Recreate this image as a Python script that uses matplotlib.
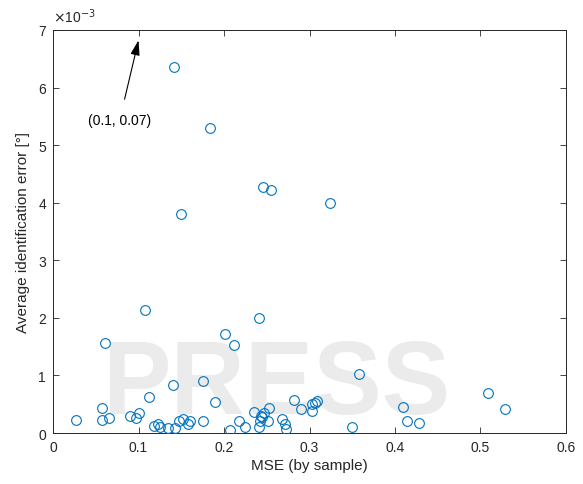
import numpy as np
import matplotlib
matplotlib.use('Agg')
import matplotlib.pyplot as plt

# MSE (by sample) and average identification error (x 1e-3 deg)
mse = [0.027, 0.057, 0.057, 0.061, 0.066, 0.090, 0.097, 0.100, 0.108, 0.112,
       0.118, 0.123, 0.125, 0.135, 0.140, 0.1425, 0.1415, 0.147, 0.150, 0.152,
       0.158, 0.160, 0.1836, 0.175, 0.176, 0.190, 0.2015, 0.207, 0.212, 0.217,
       0.225, 0.235, 0.241, 0.241, 0.242, 0.2436, 0.2452, 0.2468, 0.245, 0.2546,
       0.252, 0.253, 0.268, 0.2717, 0.2725, 0.282, 0.290, 0.3033, 0.3033, 0.306,
       0.309, 0.3243, 0.350, 0.3575, 0.409, 0.4136, 0.4277, 0.5084, 0.529]
err = [0.22, 0.43, 0.22, 1.56, 0.26, 0.29, 0.26, 0.34, 2.14, 0.63,
       0.13, 0.15, 0.11, 0.08, 0.84, 0.08, 6.35, 0.21, 3.80, 0.24,
       0.16, 0.21, 5.30, 0.91, 0.21, 0.53, 1.72, 0.06, 1.53, 0.20,
       0.10, 0.37, 2.00, 0.11, 0.20, 0.30, 4.28, 0.34, 0.27, 4.22,
       0.21, 0.44, 0.24, 0.16, 0.07, 0.58, 0.42, 0.50, 0.39, 0.52,
       0.55, 3.99, 0.10, 1.02, 0.45, 0.20, 0.17, 0.69, 0.41]

plt.rcParams['font.family'] = ['Liberation Sans', 'DejaVu Sans']
dark = '#262626'

fig = plt.figure(figsize=(5.83, 4.85), dpi=100)
ax = fig.add_axes([53/583, 1 - 434/485, 513/583, 403/485])
ax.set_facecolor('none')

# faint publisher watermark behind the plot
fig.text(0.474, 0.2, 'PRESS', fontsize=74, fontweight='bold', color='#ebebeb',
         ha='center', va='center', zorder=-10)

ax.plot(mse, err, 'o', mfc='none', mec='#0072BD', ms=7, mew=0.8, zorder=3)

ax.set_xlim(0, 0.6)
ax.set_ylim(0, 7)
ax.set_xticks(np.arange(0, 0.61, 0.1))
ax.set_xticklabels(['0', '0.1', '0.2', '0.3', '0.4', '0.5', '0.6'])
ax.set_yticks(range(8))
ax.tick_params(direction='in', top=True, right=True, length=4, width=0.6,
               colors=dark, labelsize=10, pad=5)
for s in ax.spines.values():
    s.set_color(dark)
    s.set_linewidth(0.7)

ax.set_xlabel('MSE (by sample)', fontsize=11, color=dark, labelpad=3)
ax.set_ylabel('Average identification error [°]', fontsize=11, color=dark, labelpad=6)
ax.text(0.0, 1.012, r'$\times$10$^{-3}$', transform=ax.transAxes, fontsize=10,
        color=dark, ha='left', va='bottom')

ax.annotate('(0.1, 0.07)', xy=(0.1, 6.82), xytext=(0.078, 5.44),
            ha='center', va='center', fontsize=10, color='black',
            arrowprops=dict(arrowstyle='-|>,head_length=0.9,head_width=0.28',
                            color='black', lw=0.8, shrinkA=8, shrinkB=0))

fig.savefig('out.png', dpi=100)
